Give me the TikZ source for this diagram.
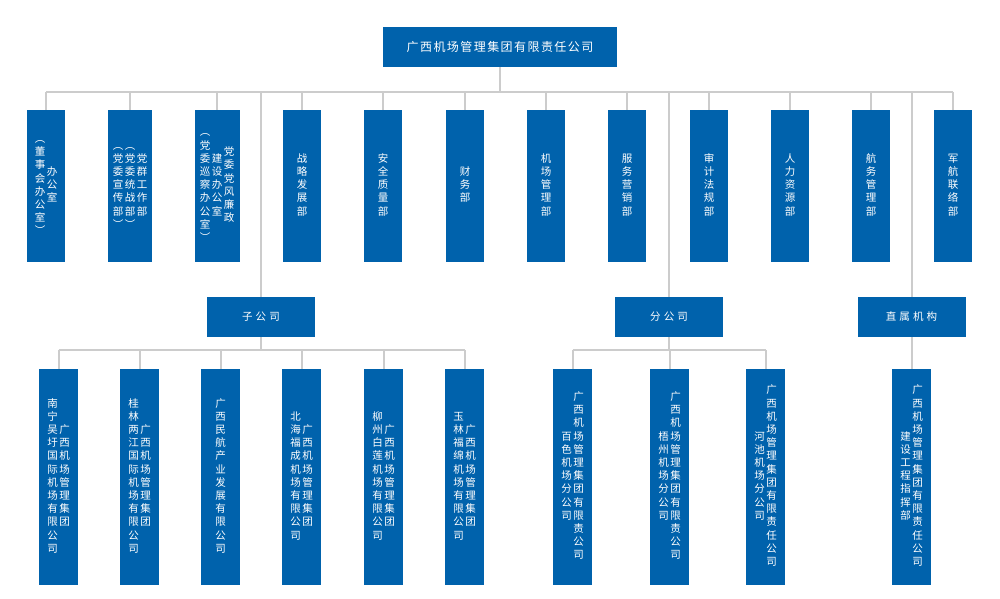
\documentclass[tikz,border=0pt]{standalone}
\usepackage{fontspec}
\setmainfont{Noto Sans CJK SC}
\makeatletter
\newcommand\vc[1]{\def\vcbody{}\@tfor\vcx:=#1\do{\expandafter\g@addto@macro\expandafter\vcbody\expandafter{\vcx\\}}%
\begin{tabular}{@{}c@{}}\vcbody\end{tabular}}
\makeatother
\newcommand\gp{\hspace{1.5pt}}
\begin{document}
\begin{tikzpicture}[x=1pt,y=-1pt,
  bx/.style={fill=boxblue,draw=none,text=white,inner sep=0pt,font=\fontsize{10.5}{13.2}\selectfont},
  ln/.style={draw=linegray,line width=2pt}]
\definecolor{boxblue}{HTML}{0062AC}
\definecolor{linegray}{HTML}{CCCCCC}
\useasboundingbox (0,0) rectangle (1000,598);
% top
\node[bx,minimum width=234pt,minimum height=40pt,font=\fontsize{12}{14}\selectfont\addfontfeatures{LetterSpace=12}] (top) at (500,47) {广西机场管理集团有限责任公司};
% row 1
\newcommand\rowbox[4]{\node[bx,minimum width=#3pt,minimum height=152pt] (#1) at (#2,186) {#4};}
\rowbox{d1}{46}{38}{\vc{︵董事会办公室︶}\gp\vc{办公室}}
\rowbox{d2}{130}{44}{\vc{︵党委宣传部︶}\gp\vc{︵党委统战部︶}\gp\vc{党群工作部}}
\rowbox{d3}{217}{45}{\vc{︵党委巡察办公室︶}\gp\vc{建设办公室}\gp\vc{党委党风廉政}}
\rowbox{d4}{302}{38}{\vc{战略发展部}}
\rowbox{d5}{383}{38}{\vc{安全质量部}}
\rowbox{d6}{465}{38}{\vc{财务部}}
\rowbox{d7}{546}{38}{\vc{机场管理部}}
\rowbox{d8}{627}{38}{\vc{服务营销部}}
\rowbox{d9}{709}{38}{\vc{审计法规部}}
\rowbox{d10}{790}{38}{\vc{人力资源部}}
\rowbox{d11}{871}{38}{\vc{航务管理部}}
\rowbox{d12}{953}{38}{\vc{军航联络部}}
% mid
\newcommand\midbox[3]{\node[bx,minimum width=108pt,minimum height=40pt,font=\fontsize{10.5}{13}\selectfont\addfontfeatures{LetterSpace=30}] (#1) at (#2,317) {#3};}
\midbox{zi}{261}{子公司}
\midbox{fen}{669}{分公司}
\midbox{zhi}{911.5}{直属机构}
% bottom
\newcommand\botbox[3]{\node[bx,minimum width=39pt,minimum height=216pt] (#1) at (#2,477) {#3};}
\botbox{s1}{58.5}{\vc{南宁吴圩国际机场有限公司}\gp\vc{广西机场管理集团}}
\botbox{s2}{139.5}{\vc{桂林两江国际机场有限公司}\gp\vc{广西机场管理集团}}
\botbox{s3}{220.5}{\vc{广西民航产业发展有限公司}}
\botbox{s4}{301.5}{\vc{北海福成机场有限公司}\gp\vc{广西机场管理集团}}
\botbox{s5}{383.5}{\vc{柳州白莲机场有限公司}\gp\vc{广西机场管理集团}}
\botbox{s6}{464.5}{\vc{玉林福绵机场有限公司}\gp\vc{广西机场管理集团}}
\botbox{b1}{572.5}{\vc{百色机场分公司}\gp\vc{广西机场管理集团有限责公司}}
\botbox{b2}{669.5}{\vc{梧州机场分公司}\gp\vc{广西机场管理集团有限责公司}}
\botbox{b3}{765.5}{\vc{河池机场分公司}\gp\vc{广西机场管理集团有限责任公司}}
\botbox{c1}{911.5}{\vc{建设工程指挥部}\gp\vc{广西机场管理集团有限责任公司}}
% connectors
\coordinate (h1) at (46,92); \coordinate (h2) at (953,92);
\draw[ln] (top.south) -- (top.south |- h1);
\draw[ln] (h1) -- (h2);
\foreach \n in {d1,d2,d3,d4,d5,d6,d7,d8,d9,d10,d11,d12} \draw[ln] (\n.north |- h1) -- (\n.north);
\draw[ln] (zi.north |- h1) -- (zi.north);
\draw[ln] (fen.north |- h1) -- (fen.north);
\draw[ln] (zhi.north |- h1) -- (zhi.north);
\coordinate (h3) at (0,350);
\draw[ln] (s1.north |- h3) -- (s6.north |- h3);
\draw[ln] (zi.south) -- (zi.south |- h3);
\foreach \n in {s1,s2,s3,s4,s5,s6} \draw[ln] (\n.north |- h3) -- (\n.north);
\draw[ln] (b1.north |- h3) -- (b3.north |- h3);
\draw[ln] (fen.south) -- (fen.south |- h3);
\foreach \n in {b1,b2,b3} \draw[ln] (\n.north |- h3) -- (\n.north);
\draw[ln] (zhi.south) -- (c1.north);
\end{tikzpicture}
\end{document}
